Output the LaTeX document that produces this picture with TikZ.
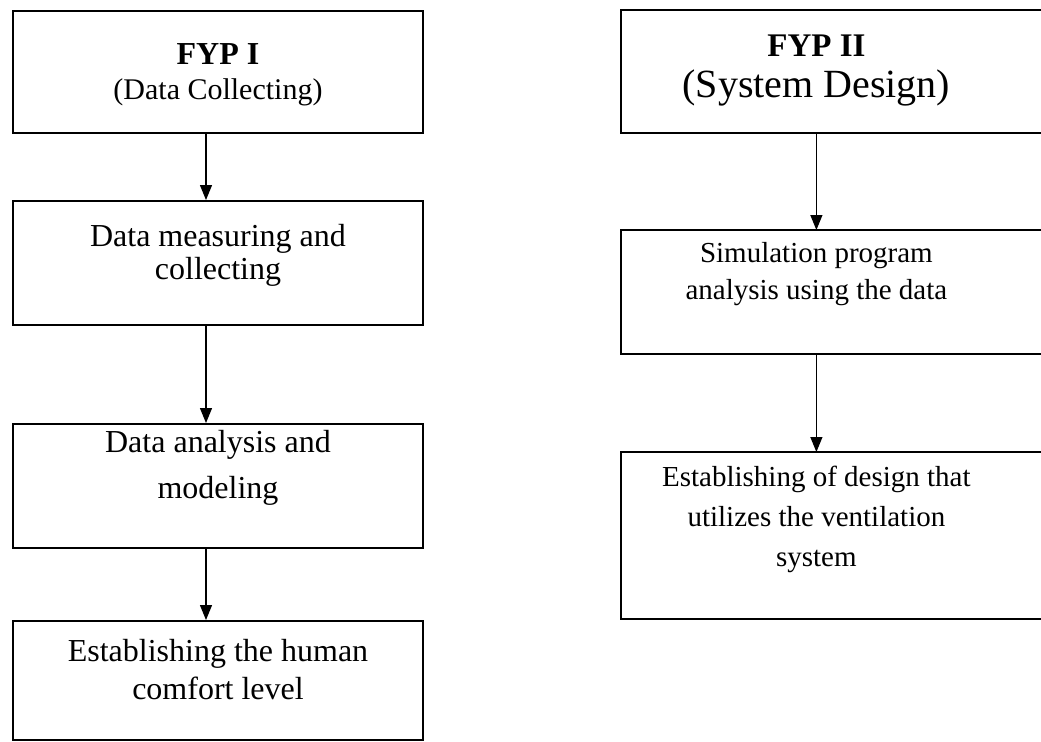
\documentclass[tikz,border=0pt]{standalone}
\usepackage{fontspec}
\setmainfont{Liberation Serif}
\usetikzlibrary{positioning}
\usetikzlibrary{arrows.meta}
\tikzset{
    stage/.style = {draw, line width=1pt, anchor=north west, inner sep=0pt, minimum width=205pt, text width=200pt, align=flush center},
    phase/.style = {anchor=north west, inner sep=0pt, minimum width=195pt, text width=190pt, align=flush center},
    frame/.style = {line width=1pt, black},
    flow/.style = {-{Triangle[length=7.5pt,width=6pt]}, line width=0.6pt, black},
    bodyl/.style = {font=\fontsize{16}{#1}\selectfont},
    bodyr/.style = {font=\fontsize{14.5}{#1}\selectfont}
}

\begin{document}
\begin{tikzpicture}[x=0.5pt, y=-0.5pt]
  \useasboundingbox (0,0) rectangle (1041,741);
  % FYP I column
  \node (fypone) at (12,10) [stage, text height=26.5pt, text depth=34.5pt, font=\fontsize{15}{17.5}\selectfont] {\textbf{\fontsize{16}{17.5}\selectfont FYP I}\\(Data Collecting)};
  \node (measure) at (12,200) [stage, text height=22.5pt, text depth=39.5pt, bodyl=16.5pt] {Data measuring and\\collecting};
  \node (analysis) at (12,423) [stage, text height=14pt, text depth=48pt, bodyl=23pt] {Data analysis and\\modeling};
  \node (comfort) at (12,620) [stage, text height=20pt, text depth=39.5pt, bodyl=19pt] {Establishing the human\\comfort level};
  % FYP II column
  \node (fyptwo) at (621,10) [phase, text height=23pt, text depth=38pt, font=\fontsize{20}{20.5}\selectfont] {\textbf{\fontsize{16.5}{20.5}\selectfont FYP II}\\(System Design)};
  \node (simulation) at (621,230) [phase, text height=16pt, text depth=45.5pt, bodyr=18.5pt] {Simulation program\\analysis using the data};
  \node (design) at (621,452) [phase, text height=17pt, text depth=66pt, bodyr=20pt] {Establishing of design that\\utilizes the ventilation\\system};
  \foreach \n in {fyptwo,simulation,design}
    \draw[frame] ([xshift=40pt]\n.north east) -- (\n.north west) -- (\n.south west) -- ([xshift=40pt]\n.south east);
  % arrows
  \draw[flow] ([xshift=-6pt]fypone.south) -- ([xshift=-6pt]measure.north);
  \draw[flow] ([xshift=-6pt]measure.south) -- ([xshift=-6pt]analysis.north);
  \draw[flow] ([xshift=-6pt]analysis.south) -- ([xshift=-6pt]comfort.north);
  \draw[flow] (fyptwo.south) -- (simulation.north);
  \draw[flow] (simulation.south) -- (design.north);
\end{tikzpicture}
\end{document}
